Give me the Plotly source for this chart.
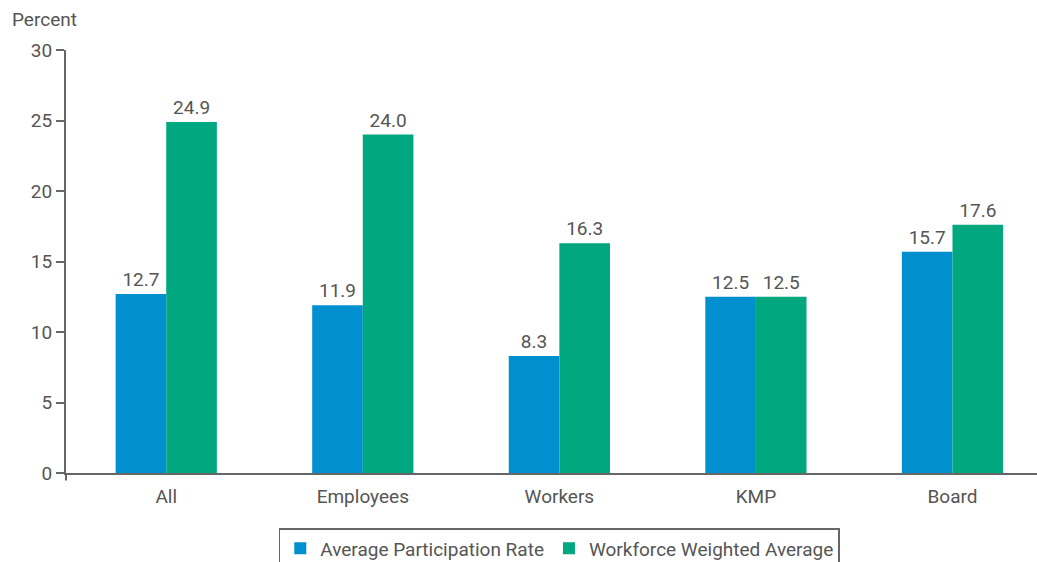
import plotly.graph_objects as go

categories = ["All", "Employees", "Workers", "KMP", "Board"]
avg_participation = [12.7, 11.9, 8.3, 12.5, 15.7]
workforce_weighted = [24.9, 24.0, 16.3, 12.5, 17.6]
y_ticks = [0, 5, 10, 15, 20, 25, 30]

BLUE = "#0090CF"
GREEN = "#00A77F"
TEXT = "#555555"
AXIS = "#666666"
FONT = "Roboto"
SIZE = 19

fig = go.Figure()
fig.add_trace(go.Bar(
    name="Average Participation Rate", x=categories, y=avg_participation,
    marker=dict(color=BLUE, line=dict(width=0)),
    text=[f"{v:.1f}" for v in avg_participation], textposition="outside",
    textfont=dict(color=TEXT, size=SIZE, family=FONT), cliponaxis=False,
))
fig.add_trace(go.Bar(
    name="Workforce Weighted Average", x=categories, y=workforce_weighted,
    marker=dict(color=GREEN, line=dict(width=0)),
    text=[f"{v:.1f}" for v in workforce_weighted], textposition="outside",
    textfont=dict(color=TEXT, size=SIZE, family=FONT), cliponaxis=False,
))

fig.update_layout(
    width=1037, height=562,
    margin=dict(l=66, r=0, t=50, b=89),
    paper_bgcolor="white", plot_bgcolor="white",
    barmode="group", bargap=0.485, bargroupgap=0,
    font=dict(family=FONT, size=SIZE, color=TEXT),
    showlegend=True,
    legend=dict(
        orientation="h", x=0.508, xanchor="center",
        yref="container", y=1 - 528 / 562, yanchor="top",
        bordercolor=AXIS, borderwidth=1.5, font=dict(size=SIZE, color=TEXT),
        itemwidth=30, tracegroupgap=0,
    ),
    xaxis=dict(
        range=[-0.51, 4.43], showline=True, linecolor=AXIS, linewidth=2,
        ticks="", showgrid=False, automargin=False, ticklabelstandoff=5,
        tickfont=dict(size=SIZE, color=TEXT),
    ),
    yaxis=dict(
        range=[0, 30], tickvals=y_ticks, showline=True, linecolor=AXIS, linewidth=2,
        ticks="outside", ticklen=8, tickwidth=2, tickcolor=AXIS, automargin=False,
        showgrid=False, zeroline=False, tickfont=dict(size=SIZE, color=TEXT),
    ),
    annotations=[dict(
        text="Percent", xref="paper", yref="paper", x=-0.058, y=1.04,
        xanchor="left", yanchor="bottom", showarrow=False,
        font=dict(size=SIZE, color=TEXT),
    )],
    shapes=[dict(
        type="line", xref="paper", yref="paper", x0=0, x1=0, y0=0, y1=-0.018,
        line=dict(color=AXIS, width=2),
    )],
)

fig.write_html("out.html")
